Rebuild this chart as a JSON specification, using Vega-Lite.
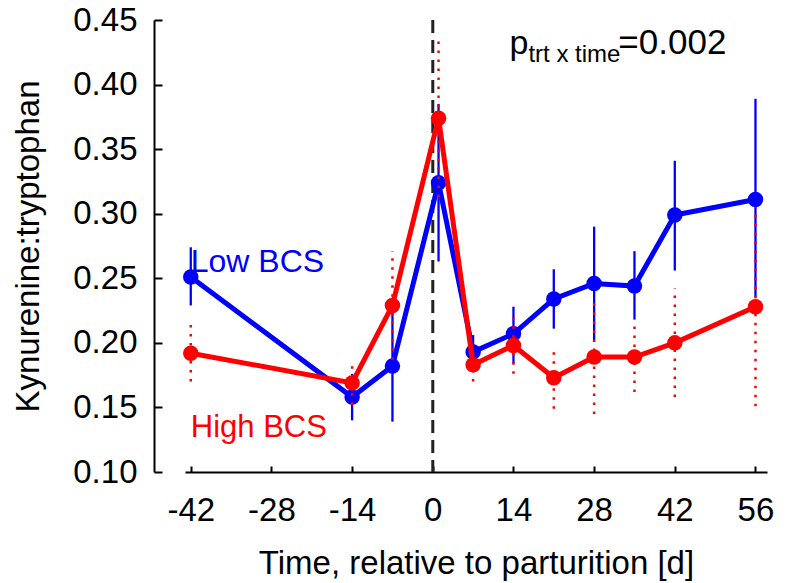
{
  "$schema": "https://vega.github.io/schema/vega-lite/v6.json",
  "autosize": {"type": "none"},
  "padding": {"left": 185, "top": 20, "right": 25, "bottom": 111},
  "width": 582,
  "height": 452,
  "background": "white",
  "config": {
    "font": "Liberation Sans",
    "view": {"stroke": null},
    "axis": {"grid": false, "domainColor": "black", "tickColor": "black", "labelColor": "black", "titleColor": "black", "labelFont": "Liberation Sans", "titleFont": "Liberation Sans", "titleFontWeight": "normal"}
  },
  "datasets": {
    "bcs": [
      {"day": -42, "group": "Low BCS", "mean": 0.251, "lo": 0.229, "hi": 0.274},
      {"day": -14, "group": "Low BCS", "mean": 0.158, "lo": 0.140, "hi": 0.176},
      {"day": -7, "group": "Low BCS", "mean": 0.182, "lo": 0.139, "hi": 0.225},
      {"day": 1, "group": "Low BCS", "mean": 0.324, "lo": 0.263, "hi": 0.385},
      {"day": 7, "group": "Low BCS", "mean": 0.193, "lo": 0.180, "hi": 0.206},
      {"day": 14, "group": "Low BCS", "mean": 0.207, "lo": 0.184, "hi": 0.228},
      {"day": 21, "group": "Low BCS", "mean": 0.234, "lo": 0.211, "hi": 0.257},
      {"day": 28, "group": "Low BCS", "mean": 0.246, "lo": 0.202, "hi": 0.290},
      {"day": 35, "group": "Low BCS", "mean": 0.244, "lo": 0.218, "hi": 0.271},
      {"day": 42, "group": "Low BCS", "mean": 0.299, "lo": 0.256, "hi": 0.341},
      {"day": 56, "group": "Low BCS", "mean": 0.311, "lo": 0.235, "hi": 0.389},
      {"day": -42, "group": "High BCS", "mean": 0.192, "lo": 0.170, "hi": 0.215},
      {"day": -14, "group": "High BCS", "mean": 0.169, "lo": 0.152, "hi": 0.187},
      {"day": -7, "group": "High BCS", "mean": 0.229, "lo": 0.187, "hi": 0.271},
      {"day": 1, "group": "High BCS", "mean": 0.374, "lo": 0.313, "hi": 0.435},
      {"day": 7, "group": "High BCS", "mean": 0.183, "lo": 0.170, "hi": 0.196},
      {"day": 14, "group": "High BCS", "mean": 0.198, "lo": 0.176, "hi": 0.219},
      {"day": 21, "group": "High BCS", "mean": 0.173, "lo": 0.149, "hi": 0.196},
      {"day": 28, "group": "High BCS", "mean": 0.189, "lo": 0.145, "hi": 0.232},
      {"day": 35, "group": "High BCS", "mean": 0.189, "lo": 0.162, "hi": 0.216},
      {"day": 42, "group": "High BCS", "mean": 0.200, "lo": 0.158, "hi": 0.242},
      {"day": 56, "group": "High BCS", "mean": 0.228, "lo": 0.151, "hi": 0.305}
    ],
    "ref": [{"day": 0}],
    "one": [{"k": 1}]
  },
  "encoding": {
    "x": {
      "type": "quantitative",
      "scale": {"domain": [-43, 58], "nice": false, "zero": false},
      "axis": {
        "title": "Time, relative to parturition [d]",
        "values": [-42, -28, -14, 0, 14, 28, 42, 56],
        "labelExpr": "'' + datum.value",
        "tickSize": -6, "tickWidth": 2, "domainWidth": 2,
        "labelFontSize": 33, "labelPadding": 28, "labelFlush": false,
        "titleFontSize": 33, "titlePadding": 20
      }
    },
    "y": {
      "type": "quantitative",
      "scale": {"domain": [0.10, 0.45], "nice": false, "zero": false},
      "axis": {
        "title": "Kynurenine:tryptophan",
        "values": [0.10, 0.15, 0.20, 0.25, 0.30, 0.35, 0.40, 0.45],
        "format": ".2f",
        "offset": 31,
        "tickSize": -8, "tickWidth": 2, "domainWidth": 2,
        "labelFontSize": 33, "labelPadding": 25, "labelFlush": false,
        "titleFontSize": 33, "titlePadding": 27
      }
    }
  },
  "layer": [
    {
      "data": {"name": "ref"},
      "mark": {"type": "rule", "color": "#222222", "strokeWidth": 3, "strokeDash": [13, 7]},
      "encoding": {"x": {"field": "day", "type": "quantitative"}, "y": null}
    },
    {
      "data": {"name": "bcs"},
      "transform": [{"filter": "datum.group === 'Low BCS'"}],
      "mark": {"type": "rule", "color": "#0000FF", "strokeWidth": 2.3},
      "encoding": {"x": {"field": "day", "type": "quantitative"}, "y": {"field": "lo", "type": "quantitative"}, "y2": {"field": "hi"}}
    },
    {
      "data": {"name": "bcs"},
      "transform": [{"filter": "datum.group === 'Low BCS'"}],
      "mark": {"type": "line", "color": "#0000FF", "strokeWidth": 5, "point": {"filled": true, "size": 240, "color": "#0000FF", "opacity": 1}},
      "encoding": {"x": {"field": "day", "type": "quantitative"}, "y": {"field": "mean", "type": "quantitative"}}
    },
    {
      "data": {"name": "bcs"},
      "transform": [{"filter": "datum.group === 'High BCS'"}],
      "mark": {"type": "rule", "color": "#FF0000", "strokeWidth": 2.5, "strokeDash": [2.5, 6.5]},
      "encoding": {"x": {"field": "day", "type": "quantitative"}, "y": {"field": "lo", "type": "quantitative"}, "y2": {"field": "hi"}}
    },
    {
      "data": {"name": "bcs"},
      "transform": [{"filter": "datum.group === 'High BCS'"}],
      "mark": {"type": "line", "color": "#FF0000", "strokeWidth": 5, "point": {"filled": true, "size": 240, "color": "#FF0000", "opacity": 1}},
      "encoding": {"x": {"field": "day", "type": "quantitative"}, "y": {"field": "mean", "type": "quantitative"}}
    },
    {
      "data": {"name": "one"},
      "mark": {"type": "text", "text": "Low BCS", "color": "#0000FF", "fontSize": 32, "align": "left", "baseline": "alphabetic"},
      "encoding": {"x": {"datum": -42}, "y": {"datum": 0.255}}
    },
    {
      "data": {"name": "one"},
      "mark": {"type": "text", "text": "High BCS", "color": "#FF0000", "fontSize": 31, "align": "left", "baseline": "alphabetic"},
      "encoding": {"x": {"datum": -42}, "y": {"datum": 0.127}}
    },
    {
      "data": {"name": "one"},
      "mark": {"type": "text", "text": "p", "color": "black", "fontSize": 34, "align": "left", "baseline": "alphabetic"},
      "encoding": {"x": {"datum": 13.3}, "y": {"datum": 0.4237}}
    },
    {
      "data": {"name": "one"},
      "mark": {"type": "text", "text": "trt x time", "color": "black", "fontSize": 24, "align": "left", "baseline": "alphabetic"},
      "encoding": {"x": {"datum": 16.6}, "y": {"datum": 0.4177}}
    },
    {
      "data": {"name": "one"},
      "mark": {"type": "text", "text": "=0.002", "color": "black", "fontSize": 35, "align": "left", "baseline": "alphabetic"},
      "encoding": {"x": {"datum": 32.2}, "y": {"datum": 0.4237}}
    }
  ]
}
